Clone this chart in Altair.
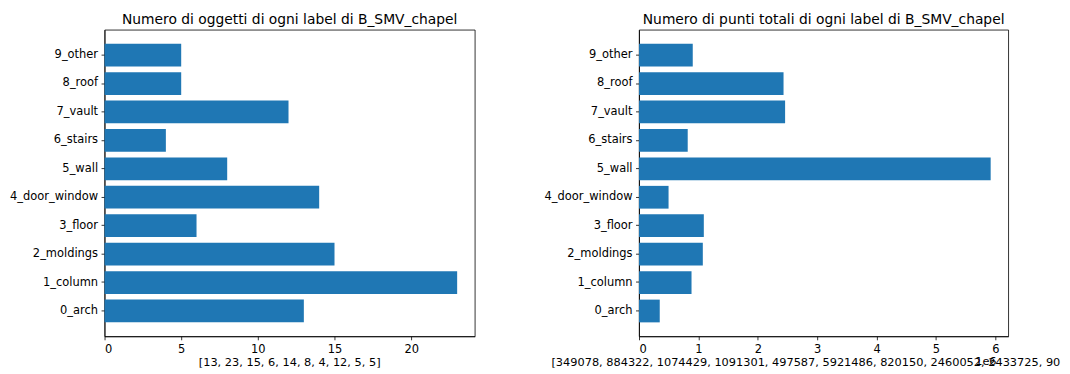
import altair as alt
import pandas as pd

labels = ["0_arch", "1_column", "2_moldings", "3_floor", "4_door_window",
          "5_wall", "6_stairs", "7_vault", "8_roof", "9_other"]
objects = [13, 23, 15, 6, 14, 8, 4, 12, 5, 5]
points = [349078, 884322, 1074429, 1091301, 497587, 5921486, 820150, 2460052, 2433725, 905000]
left_ticks = [0, 5, 10, 15, 20]
right_ticks = [0, 1000000, 2000000, 3000000, 4000000, 5000000, 6000000]

left_title = "Numero di oggetti di ogni label di B_SMV_chapel"
right_title = "Numero di punti totali di ogni label di B_SMV_chapel"
left_xtitle = "[" + ", ".join(str(v) for v in objects) + "]"
right_xtitle = "[" + ", ".join(str(v) for v in points) + "]"

FONT = "DejaVu Sans"
TICK_FS = 11.5
XTITLE_FS = 11.4
TITLE_FS = 13.9
H = 308


def text_layer(s, x, y, size, align="center", baseline="middle", **kw):
    return alt.Chart(pd.DataFrame({"t": [s]})).mark_text(
        font=FONT, fontSize=size, color="black", align=align, baseline=baseline, **kw
    ).encode(text="t:N", x=alt.value(x), y=alt.value(y))


def panel(values, title, xtitle, ticks, width, label_expr=None, offset_text=None,
          xtitle_left=None, xtitle_limit=None):
    df = pd.DataFrame({"label": labels, "value": values})
    xmax = max(values) * 1.05
    axis_kw = dict(values=ticks, title=None, grid=False, tickSize=3.5, labelPadding=3.5)
    if label_expr:
        axis_kw["labelExpr"] = label_expr
    bars = alt.Chart(df).mark_bar(color="#1f77b4").encode(
        y=alt.Y("label:N", sort=labels[::-1],
                scale=alt.Scale(paddingInner=0.2, paddingOuter=0.49),
                axis=alt.Axis(title=None, tickSize=3.5, labelPadding=3.5, grid=False)),
        x=alt.X("value:Q", scale=alt.Scale(domain=[0, xmax], nice=False, zero=True),
                axis=alt.Axis(**axis_kw)),
    )
    layers = [bars, text_layer(title, width / 2, -6, TITLE_FS, baseline="alphabetic")]
    if xtitle_left is None:
        layers.append(text_layer(xtitle, width / 2, H + 27, XTITLE_FS))
    else:
        layers.append(text_layer(xtitle, xtitle_left, H + 27, XTITLE_FS, align="left",
                                 limit=xtitle_limit, ellipsis="\u200b"))
    if offset_text:
        layers.append(text_layer(offset_text, width - 22.5, H + 26, XTITLE_FS))
    return alt.layer(*layers).properties(width=width, height=H)


left = panel(objects, left_title, left_xtitle, left_ticks, 372)
right = panel(points, right_title, right_xtitle, right_ticks, 371,
              label_expr="format(datum.value / 1000000, 'd')", offset_text="1e6",
              xtitle_left=-88, xtitle_limit=514)

chart = alt.hconcat(left, right, spacing=68).properties(
    padding={"left": 1, "top": 3, "right": 0, "bottom": 0}
).configure_view(
    stroke="black", strokeWidth=0.8
).configure_axis(
    labelFont=FONT, labelFontSize=TICK_FS, labelColor="black",
    tickColor="black", tickWidth=0.8, domainColor="black", domainWidth=0.8,
)

chart.save("out.html", embed_options={"renderer": "svg", "actions": False})
